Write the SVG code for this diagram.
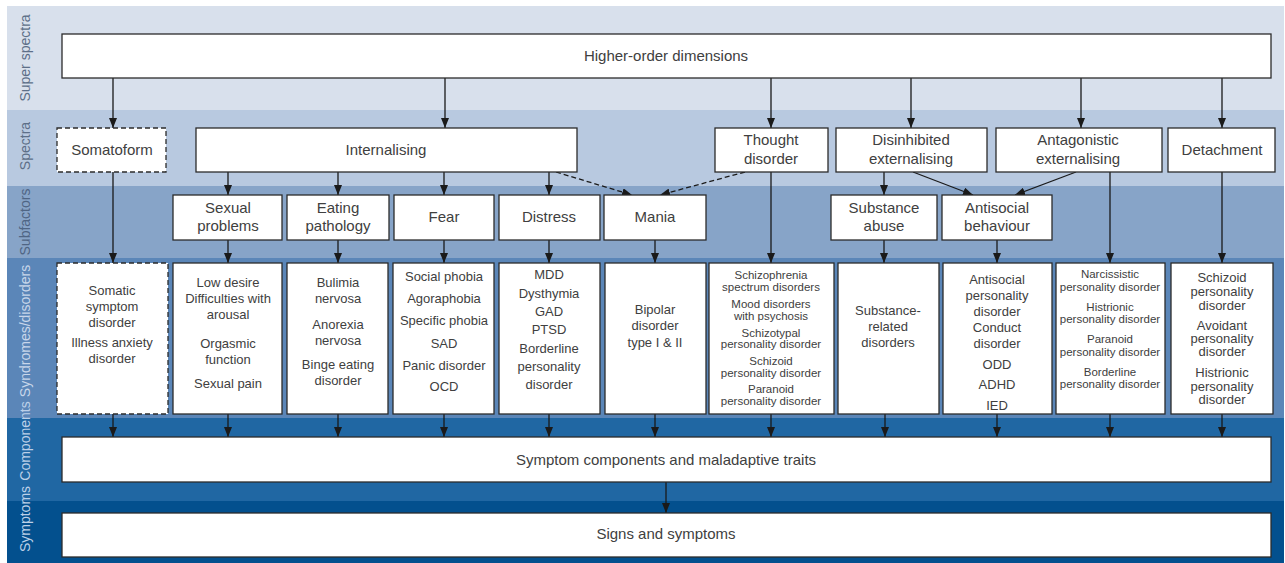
<svg xmlns="http://www.w3.org/2000/svg" width="1285" height="563" viewBox="0 0 1285 563">
<defs>
<marker id="ah" viewBox="0 0 10 8" refX="10" refY="4" markerWidth="10" markerHeight="8" orient="auto" markerUnits="userSpaceOnUse">
<path d="M0,0 L10,4 L0,8 z" fill="#1a1a1a"/>
</marker>
<style>
.box{fill:#fff;stroke:#2b2b2b;stroke-width:1.3}
.dbox{fill:#fff;stroke:#2b2b2b;stroke-width:1.3;stroke-dasharray:5,3}
.t{font-family:"Liberation Sans",Arial,sans-serif;font-size:15px;fill:#404040;text-anchor:middle}
.m{font-family:"Liberation Sans",Arial,sans-serif;font-size:13px;fill:#404040;text-anchor:middle}
.s{font-family:"Liberation Sans",Arial,sans-serif;font-size:11.5px;fill:#404040;text-anchor:middle}
.lbl{font-family:"Liberation Sans",Arial,sans-serif;font-size:14px;text-anchor:middle;dominant-baseline:central}
.c{fill:none;stroke:#1a1a1a;stroke-width:1.3;marker-end:url(#ah)}
.cd{fill:none;stroke:#1a1a1a;stroke-width:1.3;stroke-dasharray:5,3;marker-end:url(#ah)}
</style>
</defs>

<g id="bands">
<rect x="7" y="6" width="1277" height="104" fill="#d8e0ec"/>
<rect x="7" y="110" width="1277" height="76" fill="#b8c9e0"/>
<rect x="7" y="186" width="1277" height="72" fill="#87a4c8"/>
<rect x="7" y="258" width="1277" height="160" fill="#5b86b8"/>
<rect x="7" y="418" width="1277" height="83" fill="#2067a3"/>
<rect x="7" y="501" width="1277" height="62" fill="#03508e"/>
<text class="lbl" x="25" y="58" fill="#5d6f88" transform="rotate(-90 25 58)">Super spectra</text>
<text class="lbl" x="25" y="146" fill="#5d6f88" transform="rotate(-90 25 146)">Spectra</text>
<text class="lbl" x="25" y="222" fill="#4f6584" transform="rotate(-90 25 222)">Subfactors</text>
<text class="lbl" x="25" y="331" fill="#c8d6ea" transform="rotate(-90 25 331)">Syndromes/disorders</text>
<text class="lbl" x="25" y="441" fill="#bcd0e8" transform="rotate(-90 25 441)">Components</text>
<text class="lbl" x="25" y="519" fill="#bcd0e8" transform="rotate(-90 25 519)">Symptoms</text>
</g>

<g id="connectors">
<path class="c" d="M113,78 V128"/>
<path class="c" d="M445,78 V128"/>
<path class="c" d="M771,78 V128"/>
<path class="c" d="M911,78 V128"/>
<path class="c" d="M1081,78 V128"/>
<path class="c" d="M1222,78 V128"/>
<path class="c" d="M113,172 V263"/>
<path class="c" d="M228,172 V195"/>
<path class="c" d="M338,172 V195"/>
<path class="c" d="M444,172 V195"/>
<path class="c" d="M549,172 V195"/>
<path class="cd" d="M556,172 L632,195"/>
<path class="cd" d="M745,172 L660,195"/>
<path class="c" d="M771,172 V263"/>
<path class="c" d="M884,172 V195"/>
<path class="c" d="M913,172 L973,195"/>
<path class="c" d="M1076,172 L1015,195"/>
<path class="c" d="M1110,172 V263"/>
<path class="c" d="M1222,172 V263"/>
<path class="c" d="M228,240 V263"/>
<path class="c" d="M338,240 V263"/>
<path class="c" d="M444,240 V263"/>
<path class="c" d="M549,240 V263"/>
<path class="c" d="M655,240 V263"/>
<path class="c" d="M884,240 V263"/>
<path class="c" d="M997,240 V263"/>
<path class="c" d="M113,414 V437"/>
<path class="c" d="M228,414 V437"/>
<path class="c" d="M338,414 V437"/>
<path class="c" d="M444,414 V437"/>
<path class="c" d="M549,414 V437"/>
<path class="c" d="M655,414 V437"/>
<path class="c" d="M771,414 V437"/>
<path class="c" d="M885,414 V437"/>
<path class="c" d="M997,414 V437"/>
<path class="c" d="M1110,414 V437"/>
<path class="c" d="M1222,414 V437"/>
<path class="c" d="M666,482 V513"/>
</g>

<g id="higher-order">
<rect class="box" x="62" y="34" width="1209" height="44"/>
<text class="t" x="666" y="61">Higher-order dimensions</text>
</g>

<g id="somatoform">
<rect class="dbox" x="57" y="128" width="109" height="44"/>
<text class="t" x="112" y="155">Somatoform</text>
</g>
<g id="internalising">
<rect class="box" x="196" y="128" width="381" height="44"/>
<text class="t" x="386" y="155">Internalising</text>
</g>
<g id="thought-disorder">
<rect class="box" x="715" y="128" width="113" height="44"/>
<text class="t" x="771" y="145">Thought</text>
<text class="t" x="771" y="164">disorder</text>
</g>
<g id="disinhibited">
<rect class="box" x="836" y="128" width="151" height="44"/>
<text class="t" x="911" y="145">Disinhibited</text>
<text class="t" x="911" y="164">externalising</text>
</g>
<g id="antagonistic">
<rect class="box" x="996" y="128" width="166" height="44"/>
<text class="t" x="1078" y="145">Antagonistic</text>
<text class="t" x="1078" y="164">externalising</text>
</g>
<g id="detachment">
<rect class="box" x="1168" y="128" width="107" height="44"/>
<text class="t" x="1222" y="155">Detachment</text>
</g>

<g id="sexual-problems">
<rect class="box" x="173" y="195" width="109" height="45"/>
<text class="t" x="228" y="213">Sexual</text>
<text class="t" x="228" y="231">problems</text>
</g>
<g id="eating-pathology">
<rect class="box" x="287" y="195" width="102" height="45"/>
<text class="t" x="338" y="213">Eating</text>
<text class="t" x="338" y="231">pathology</text>
</g>
<g id="fear">
<rect class="box" x="394" y="195" width="100" height="45"/>
<text class="t" x="444" y="222">Fear</text>
</g>
<g id="distress">
<rect class="box" x="499" y="195" width="101" height="45"/>
<text class="t" x="549" y="222">Distress</text>
</g>
<g id="mania">
<rect class="box" x="604" y="195" width="102" height="45"/>
<text class="t" x="655" y="222">Mania</text>
</g>
<g id="substance-abuse">
<rect class="box" x="831" y="195" width="106" height="45"/>
<text class="t" x="884" y="213">Substance</text>
<text class="t" x="884" y="231">abuse</text>
</g>
<g id="antisocial-behaviour">
<rect class="box" x="942" y="195" width="110" height="45"/>
<text class="t" x="997" y="213">Antisocial</text>
<text class="t" x="997" y="231">behaviour</text>
</g>

<g id="somatic-disorders">
<rect class="dbox" x="57" y="263" width="111" height="151"/>
<text class="m" x="112" y="295">Somatic</text>
<text class="m" x="112" y="311">symptom</text>
<text class="m" x="112" y="327">disorder</text>
<text class="m" x="112" y="347">Illness anxiety</text>
<text class="m" x="112" y="363">disorder</text>
</g>
<g id="sexual-disorders">
<rect class="box" x="173" y="263" width="109" height="151"/>
<text class="m" x="228" y="287">Low desire</text>
<text class="m" x="228" y="303">Difficulties with</text>
<text class="m" x="228" y="319">arousal</text>
<text class="m" x="228" y="348">Orgasmic</text>
<text class="m" x="228" y="364">function</text>
<text class="m" x="228" y="388">Sexual pain</text>
</g>
<g id="eating-disorders">
<rect class="box" x="287" y="263" width="101" height="151"/>
<text class="m" x="338" y="287">Bulimia</text>
<text class="m" x="338" y="303">nervosa</text>
<text class="m" x="338" y="329">Anorexia</text>
<text class="m" x="338" y="345">nervosa</text>
<text class="m" x="338" y="369">Binge eating</text>
<text class="m" x="338" y="385">disorder</text>
</g>
<g id="fear-disorders">
<rect class="box" x="393" y="263" width="101" height="151"/>
<text class="m" x="444" y="281">Social phobia</text>
<text class="m" x="444" y="303">Agoraphobia</text>
<text class="m" x="444" y="325">Specific phobia</text>
<text class="m" x="444" y="348">SAD</text>
<text class="m" x="444" y="370">Panic disorder</text>
<text class="m" x="444" y="391">OCD</text>
</g>
<g id="distress-disorders">
<rect class="box" x="499" y="263" width="101" height="151"/>
<text class="m" x="549" y="279">MDD</text>
<text class="m" x="549" y="298">Dysthymia</text>
<text class="m" x="549" y="316">GAD</text>
<text class="m" x="549" y="334">PTSD</text>
<text class="m" x="549" y="353">Borderline</text>
<text class="m" x="549" y="371">personality</text>
<text class="m" x="549" y="389">disorder</text>
</g>
<g id="bipolar">
<rect class="box" x="605" y="263" width="101" height="151"/>
<text class="m" x="655" y="314">Bipolar</text>
<text class="m" x="655" y="330">disorder</text>
<text class="m" x="655" y="347">type I &amp; II</text>
</g>
<g id="thought-disorders">
<rect class="box" x="709" y="263" width="125" height="151"/>
<text class="s" x="771" y="279">Schizophrenia</text>
<text class="s" x="771" y="291">spectrum disorders</text>
<text class="s" x="771" y="308">Mood disorders</text>
<text class="s" x="771" y="320">with psychosis</text>
<text class="s" x="771" y="337">Schizotypal</text>
<text class="s" x="771" y="348">personality disorder</text>
<text class="s" x="771" y="365">Schizoid</text>
<text class="s" x="771" y="377">personality disorder</text>
<text class="s" x="771" y="393">Paranoid</text>
<text class="s" x="771" y="405">personality disorder</text>
</g>
<g id="substance-disorders">
<rect class="box" x="838" y="263" width="101" height="151"/>
<text class="m" x="888" y="315">Substance-</text>
<text class="m" x="888" y="331">related</text>
<text class="m" x="888" y="347">disorders</text>
</g>
<g id="antisocial-disorders">
<rect class="box" x="943" y="263" width="109" height="151"/>
<text class="m" x="997" y="284">Antisocial</text>
<text class="m" x="997" y="300">personality</text>
<text class="m" x="997" y="316">disorder</text>
<text class="m" x="997" y="332">Conduct</text>
<text class="m" x="997" y="348">disorder</text>
<text class="m" x="997" y="369">ODD</text>
<text class="m" x="997" y="389">ADHD</text>
<text class="m" x="997" y="410">IED</text>
</g>
<g id="antagonistic-disorders">
<rect class="box" x="1056" y="263" width="109" height="151"/>
<text class="s" x="1110" y="278">Narcissistic</text>
<text class="s" x="1110" y="291">personality disorder</text>
<text class="s" x="1110" y="311">Histrionic</text>
<text class="s" x="1110" y="323">personality disorder</text>
<text class="s" x="1110" y="343">Paranoid</text>
<text class="s" x="1110" y="356">personality disorder</text>
<text class="s" x="1110" y="376">Borderline</text>
<text class="s" x="1110" y="388">personality disorder</text>
</g>
<g id="detachment-disorders">
<rect class="box" x="1171" y="263" width="102" height="151"/>
<text class="m" x="1222" y="282">Schizoid</text>
<text class="m" x="1222" y="296">personality</text>
<text class="m" x="1222" y="310">disorder</text>
<text class="m" x="1222" y="330">Avoidant</text>
<text class="m" x="1222" y="343">personality</text>
<text class="m" x="1222" y="356">disorder</text>
<text class="m" x="1222" y="377">Histrionic</text>
<text class="m" x="1222" y="391">personality</text>
<text class="m" x="1222" y="404">disorder</text>
</g>

<g id="symptom-components">
<rect class="box" x="62" y="437" width="1209" height="45"/>
<text class="t" x="666" y="465">Symptom components and maladaptive traits</text>
</g>
<g id="signs-symptoms">
<rect class="box" x="62" y="513" width="1209" height="44"/>
<text class="t" x="666" y="539">Signs and symptoms</text>
</g>
</svg>
